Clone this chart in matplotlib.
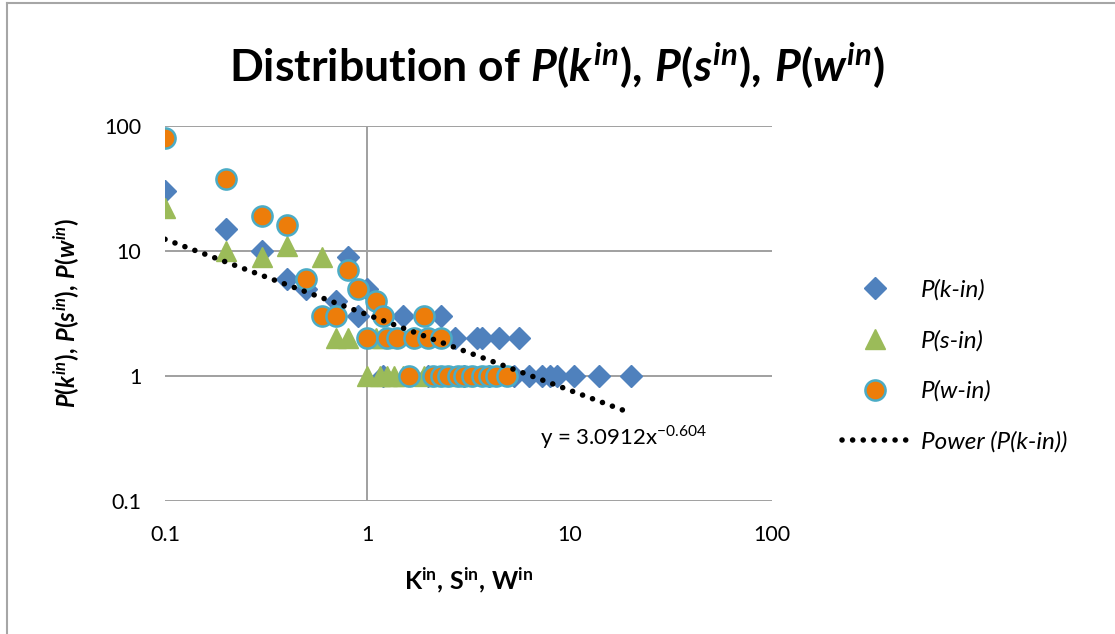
import numpy as np
import matplotlib
matplotlib.use("Agg")
import matplotlib.pyplot as plt
from matplotlib.lines import Line2D

plt.rcParams['font.family'] = ['Lato', 'DejaVu Sans']
plt.rcParams['mathtext.fontset'] = 'custom'
plt.rcParams['mathtext.rm'] = 'Lato:bold'
plt.rcParams['mathtext.it'] = 'Lato:bold:italic'
plt.rcParams['mathtext.bf'] = 'Lato:bold'
plt.rcParams['mathtext.sf'] = 'Lato'

# P(k-in) points
k_x = [0.1, 0.2, 0.3, 0.4, 0.5, 0.7, 0.8, 0.9, 1.0, 1.5, 2.3,
       2.7, 3.5, 3.7, 4.5, 5.6,
       1.2, 2.0, 3.0, 4.0, 5.3, 6.3, 7.3, 8.0, 8.7, 10.5, 14, 20]
k_y = [30, 15, 10, 6, 5, 4, 9, 3, 5, 3, 3,
       2, 2, 2, 2, 2,
       1, 1, 1, 1, 1, 1, 1, 1, 1, 1, 1, 1]

# P(s-in) points
s_x = [0.1, 0.2, 0.3, 0.4, 0.6, 0.7, 0.8, 1.1, 1.2,
       1.0, 1.15, 1.25, 1.35, 1.5, 1.9, 2.4, 3.0]
s_y = [22, 10, 9, 11, 9, 2, 2, 2, 2,
       1, 1, 1, 1, 1, 1, 1, 1]

# P(w-in) points
w_x = [0.1, 0.2, 0.3, 0.4, 0.5, 0.6, 0.7, 0.8, 0.9, 1.1, 1.2, 1.9,
       1.0, 1.25, 1.4, 1.7, 2.0, 2.3,
       1.6, 2.1, 2.3, 2.5, 2.8, 3.0, 3.3, 3.7, 4.0, 4.3, 4.9]
w_y = [80, 38, 19, 16, 6, 3, 3, 7, 5, 4, 3, 3,
       2, 2, 2, 2, 2, 2,
       1, 1, 1, 1, 1, 1, 1, 1, 1, 1, 1]

# power trendline of P(k-in): y = a * x^b
fit_a = 3.0912
fit_b = -0.604
fit_range = [0.1, 20]

x_ticks = [0.1, 1, 10, 100]
x_labels = ['0.1', '1', '10', '100']
y_ticks = [0.1, 1, 10, 100]
y_labels = ['0.1', '1', '10', '100']

fig = plt.figure(figsize=(11.15, 6.34), dpi=100)
ax = fig.add_axes([165/1115, 1 - 501/634, 607/1115, 375/634])

ax.set_xscale('log')
ax.set_yscale('log')
ax.set_xlim(0.1, 100)
ax.set_ylim(0.1, 100)

grid_c = '#A0A0A0'
for yv in y_ticks:
    ax.axhline(yv, color=grid_c, lw=1.4, zorder=1)
ax.axvline(1, color=grid_c, lw=1.4, zorder=1)
for s in ax.spines.values():
    s.set_visible(False)

ax.plot(k_x, k_y, 'D', ms=11, color='#4F81BD', mec='#4F81BD', label='P(k-in)', zorder=3)
ax.plot(s_x, s_y, '^', ms=15, color='#9BBB59', mec='#9BBB59', label='P(s-in)', zorder=4)
ax.plot(w_x, w_y, 'o', ms=14.5, color='#ED7D0A', mec='#4BACC6', mew=1.8, label='P(w-in)', zorder=5)

fx = np.logspace(np.log10(fit_range[0]), np.log10(fit_range[1]), 100)
fy = fit_a * fx ** fit_b
ax.plot(fx, fy, color='black', lw=4, linestyle=(0, (0.01, 1.9)),
        dash_capstyle='round', label='Power (P(k-in))', zorder=6)

ax.text(0.618, 0.171, r"y = 3.0912x$^{\mathsf{-0.604}}$", transform=ax.transAxes,
        fontsize=16, ha='left', va='center')

ax.minorticks_off()
ax.set_xticks(x_ticks)
ax.set_xticklabels(x_labels)
ax.set_yticks(y_ticks)
ax.set_yticklabels(y_labels)
ax.tick_params(length=0, labelsize=15.5, pad=17)

ax.set_xlabel(r"$\mathrm{K^{in},\,S^{in},\,W^{in}}$", fontsize=18, labelpad=15)
ax.set_ylabel(r"$\mathit{P(k^{in}),\,P(s^{in}),\,P(w^{in})}$", fontsize=17, labelpad=16)

fig.text(557/1115, 1 - 66/634,
         r"Distribution of $\mathit{P(k^{in}),\,P(s^{in}),\,P(w^{in})}$",
         fontsize=32, fontweight='bold', ha='center', va='center')

leg = ax.legend(loc='center left', bbox_to_anchor=(842/1115, 1 - 366/634),
                bbox_transform=fig.transFigure, frameon=False,
                prop={'family': 'Lato', 'style': 'italic', 'size': 17.5},
                handlelength=2.75, handletextpad=0.5, labelspacing=1.2,
                borderpad=0, borderaxespad=0)

# chart area border
fig.add_artist(Line2D([7/1115, 7/1115], [0, 1 - 3/634], color='#A6A6A6', lw=1.5,
                      transform=fig.transFigure))
fig.add_artist(Line2D([7/1115, 1], [1 - 3/634, 1 - 3/634], color='#A6A6A6', lw=1.5,
                      transform=fig.transFigure))

fig.savefig('out.png', dpi=100)
